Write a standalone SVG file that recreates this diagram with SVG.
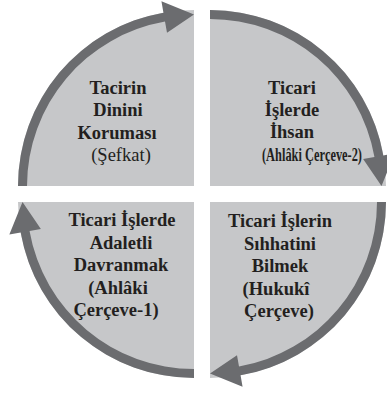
<svg xmlns="http://www.w3.org/2000/svg" xmlns:xlink="http://www.w3.org/1999/xlink" width="387" height="394" viewBox="0 0 387 394">
  <style>
    .fill { fill: #c6c7c9; }
    .arc { fill: #6b6c6f; }
    .t { font-family: "Liberation Serif", "DejaVu Serif", serif; font-size: 18.5px; font-weight: bold; fill: #231f20; text-anchor: middle; }
    .n { font-weight: normal; }
  </style>
  <defs>
    <path id="quarter" d="M194,186 L18,186 A176,176 0 0 1 194,10 Z"/>
    <path id="arrow" d="M18,186 A176,176 0 0 1 163.44,12.67 L161.44,1.35 L194,14.5 L167.0,32.86 L165.0,21.54 A167,167 0 0 0 27,186 Z"/>
  </defs>
  <rect width="387" height="394" fill="#ffffff"/>

  <g id="node-tl">
    <use xlink:href="#quarter" class="fill"/>
    <text class="t" x="118" y="94">Tacirin</text>
    <text class="t" x="118" y="116">Dinini</text>
    <text class="t" x="117" y="139">Koruması</text>
    <text class="t n" x="121" y="161">(Şefkat)</text>
  </g>
  <g id="node-tr">
    <use xlink:href="#quarter" class="fill" transform="rotate(90 202 194)"/>
    <text class="t" x="292" y="93.5">Ticari</text>
    <text class="t" x="292" y="116">İşlerde</text>
    <text class="t" x="292" y="138">İhsan</text>
    <text class="t" x="312" y="160.5" textLength="100" lengthAdjust="spacingAndGlyphs">(Ahlâki Çerçeve-2)</text>
  </g>
  <g id="node-br">
    <use xlink:href="#quarter" class="fill" transform="rotate(180 202 194)"/>
    <text class="t" x="280" y="227">Ticari İşlerin</text>
    <text class="t" x="280" y="250">Sıhhatini</text>
    <text class="t" x="280" y="272">Bilmek</text>
    <text class="t" x="276" y="295">(Hukukî</text>
    <text class="t" x="279" y="317">Çerçeve)</text>
  </g>
  <g id="node-bl">
    <use xlink:href="#quarter" class="fill" transform="rotate(270 202 194)"/>
    <text class="t" x="122" y="226">Ticari İşlerde</text>
    <text class="t" x="121" y="249">Adaletli</text>
    <text class="t" x="121" y="271">Davranmak</text>
    <text class="t" x="118" y="294">(Ahlâki</text>
    <text class="t" x="116" y="316">Çerçeve-1)</text>
  </g>

  <g id="connectors">
    <use xlink:href="#arrow" class="arc"/>
    <use xlink:href="#arrow" class="arc" transform="rotate(90 202 194)"/>
    <use xlink:href="#arrow" class="arc" transform="rotate(180 202 194)"/>
    <use xlink:href="#arrow" class="arc" transform="rotate(270 202 194)"/>
  </g>
</svg>
